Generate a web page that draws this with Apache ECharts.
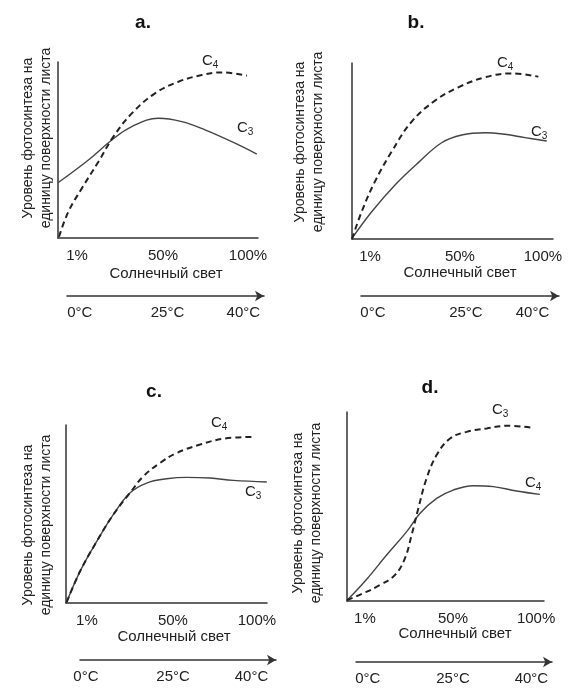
<!DOCTYPE html>
<html><head><meta charset="utf-8">
<script src="https://cdn.jsdelivr.net/npm/echarts@6/dist/echarts.min.js"></script>
<style>html,body{margin:0;padding:0;background:#fff}#c{width:576px;height:693px}</style>
</head><body><div id="c"></div>
<script>
// ---- data ----
const panelTitles = ['a.', 'b.', 'c.', 'd.'];
const xAxisTitle = 'Солнечный свет';
const yAxisTitle = 'Уровень фотосинтеза на\nединицу поверхности листа';
const lightTickLabels = ['1%', '50%', '100%'];
const tempTickLabels = ['0°C', '25°C', '40°C'];
const lightTickValuesA = [9.5, 52.5, 95];
const lightTickValuesB = [9, 53.7, 95];
const lightTickValuesC = [10.4, 53.2, 95];
const lightTickValuesD = [9.1, 53.8, 96];
const tempTickValuesA = [6.5, 51, 89.5];
const tempTickValuesB = [6, 53, 86.6];
const tempTickValuesC = [3, 47.5, 87.5];
const tempTickValuesD = [6, 49.5, 89.5];

const aC3 = [[0,31.4],[15.2,44.3],[26.9,55.7],[36.9,63.3],[50.2,68.0],[61.9,66.1],[73.5,61.4],[86.9,54.7],[99.4,47.7]];
const aC4 = [[0.5,0.7],[5.2,15],[11.9,28.2],[20.2,43.3],[27.7,57.6],[36.9,70.8],[48.5,82.2],[60.2,88.8],[71.9,92.6],[81.9,94.1],[94.4,92.2]];
const bC3 = [[0,0.4],[9.8,15.5],[21.4,30.7],[33,43.4],[44.6,54.7],[54.6,59.1],[66.2,60.4],[76.1,59.5],[86.1,57.6],[96.9,55.7]];
const bC4 = [[0,0],[4.8,15.5],[11.4,32.6],[19.7,49.6],[29.7,66.7],[41.3,78.6],[52.9,86.2],[66.2,91.9],[79.4,94.1],[92.7,92.2]];
const cC3 = [[0.3,0.4],[7,17.8],[15.3,34.6],[23.5,49.6],[31.8,61.8],[40.1,67.4],[50.1,69.8],[60,70.6],[71.6,70.2],[83.2,68.9],[99.9,68]];
const cC4 = [[0.3,0.4],[7,17.8],[15.3,34.6],[23.5,49.6],[31.8,61.8],[38.5,71.2],[46.8,78.7],[55.1,84.3],[66.7,89],[78.3,92.3],[93.2,93.3]];
const dC4 = [[0.2,0.5],[10,11.5],[20.1,24.3],[30.3,36.7],[37.1,46.4],[45.5,54.3],[53.9,58.7],[64.1,61],[74.3,60.5],[86.1,58.2],[97.9,56.4]];
const dC3 = [[0,0.5],[8.3,4.1],[16.8,8.5],[24.4,13.8],[29.4,22.6],[32.8,34.9],[36.2,49],[40.4,64.9],[45.5,77.2],[52.3,86],[60.7,89.5],[70.9,91.3],[81.1,92.7],[94.6,91.6]];

// ---- layout ----
const FONT = '"Liberation Sans", Arial, sans-serif';
const TXT = '#222';
const AX = '#333';
const panels = [
  {grid:{left:58,top:62,width:200,height:176}, tgrid:{left:67,top:295,width:197,height:1},
   lt:lightTickValuesA, tt:tempTickValuesA, solid:aC3, dashed:aC4,
   title:[143,23], xname:[166,274], yname:[37,138],
   solidLab:['3',237,128], dashedLab:['4',202,61]},
  {grid:{left:352,top:63,width:201,height:176}, tgrid:{left:361,top:295,width:198,height:1},
   lt:lightTickValuesB, tt:tempTickValuesB, solid:bC3, dashed:bC4,
   title:[416,23], xname:[460,273], yname:[309,142],
   solidLab:['3',531,132], dashedLab:['4',497,63]},
  {grid:{left:66,top:425,width:201,height:178}, tgrid:{left:80,top:659,width:196,height:1},
   lt:lightTickValuesC, tt:tempTickValuesC, solid:cC3, dashed:cC4,
   title:[154,392], xname:[174,637], yname:[37,525],
   solidLab:['3',245,492], dashedLab:['4',211,423]},
  {grid:{left:347,top:412,width:197,height:189}, tgrid:{left:356,top:661,width:196,height:1},
   lt:lightTickValuesD, tt:tempTickValuesD, solid:dC4, dashed:dC3,
   title:[430,388], xname:[455,634], yname:[307,513],
   solidLab:['4',525,483], dashedLab:['3',492,410]}
];

const grid = [], xAxis = [], yAxis = [], series = [], graphic = [];
panels.forEach((p, i) => {
  const gi = grid.length;
  grid.push(p.grid);
  xAxis.push({gridIndex:gi, type:'value', min:0, max:100,
    axisLine:{show:true, lineStyle:{color:AX, width:1.5}},
    axisTick:{show:false}, splitLine:{show:false},
    axisLabel:{customValues:p.lt, margin:10, color:TXT, fontFamily:FONT, fontSize:15,
      formatter:(v)=>lightTickLabels[p.lt.indexOf(v)]}});
  yAxis.push({gridIndex:gi, type:'value', min:0, max:100,
    axisLine:{show:true, lineStyle:{color:AX, width:1.5}},
    axisTick:{show:false}, splitLine:{show:false}, axisLabel:{show:false}});
  series.push({type:'line', xAxisIndex:gi, yAxisIndex:gi, data:p.solid, smooth:0.4,
    showSymbol:false, lineStyle:{color:'#444', width:1.4, type:'solid'}, z:3});
  series.push({type:'line', xAxisIndex:gi, yAxisIndex:gi, data:p.dashed, smooth:0.4,
    showSymbol:false, lineStyle:{color:'#222', width:2, type:[6,4]}, z:4});
  const ti = grid.length;
  grid.push(p.tgrid);
  xAxis.push({gridIndex:ti, type:'value', min:0, max:100, position:'bottom',
    axisLine:{show:true, symbol:['none','arrow'], symbolSize:[8,9], lineStyle:{color:AX, width:1.5}},
    axisTick:{show:false}, splitLine:{show:false},
    axisLabel:{customValues:p.tt, margin:9, color:TXT, fontFamily:FONT, fontSize:15,
      formatter:(v)=>tempTickLabels[p.tt.indexOf(v)]}});
  yAxis.push({gridIndex:ti, type:'value', show:false});

  graphic.push({type:'text', x:p.title[0], y:p.title[1], style:{text:panelTitles[i],
    font:'bold 19px '+FONT, fill:'#111', align:'center', verticalAlign:'middle'}});
  graphic.push({type:'text', x:p.xname[0], y:p.xname[1], style:{text:xAxisTitle,
    font:'15px '+FONT, fill:TXT, align:'center', verticalAlign:'middle'}});
  graphic.push({type:'text', x:p.yname[0], y:p.yname[1], rotation:Math.PI/2, style:{text:yAxisTitle,
    font:'14px '+FONT, fill:TXT, align:'center', verticalAlign:'middle', lineHeight:18}});
  [p.solidLab, p.dashedLab].forEach(l => {
    graphic.push({type:'text', x:l[1], y:l[2], style:{
      text:'{c|C}{s|'+l[0]+'}', align:'left', verticalAlign:'middle',
      rich:{c:{fontFamily:FONT, fontSize:15, fill:TXT, color:TXT, lineHeight:18, verticalAlign:'middle'},
            s:{fontFamily:FONT, fontSize:10, fill:TXT, color:TXT, lineHeight:18, verticalAlign:'bottom', padding:[6,0,0,0]}}}});
  });
});

const chart = echarts.init(document.getElementById('c'), null, {renderer:'canvas'});
chart.setOption({backgroundColor:'#fff', animation:false, grid, xAxis, yAxis, series, graphic});
</script></body></html>
